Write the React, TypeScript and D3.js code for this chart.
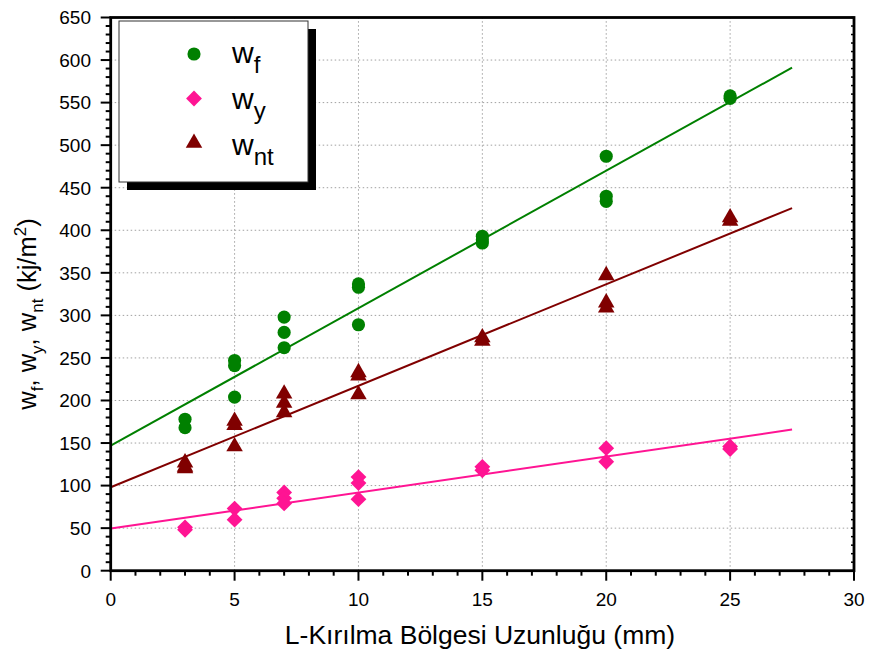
import * as d3 from "d3";
import React from "react";

// measured groups: x position (mm) and the values read at each one
const xLevels = [3, 5, 7, 10, 15, 20, 25];
const wf = [[178, 168], [247, 241, 204], [298, 280, 262], [337, 333, 289], [393, 389, 385], [487, 440, 434], [558, 555]];
const wy = [[51, 48], [73, 60], [92, 85, 79], [110, 103, 84], [122, 118], [144, 128], [146, 143]];
const wnt = [[127, 122, 120], [176, 171, 146], [208, 197, 186], [233, 229, 207], [274, 270], [347, 315, 309], [415, 411]];

// linear fits (intercept, slope) drawn from 0 to 27.5 mm
const seriesNames = ["f", "y", "nt"];
const fitIntercepts = [147, 49.5, 98];
const fitSlopes = [16.15, 4.23, 11.93];
const fitRange = [0, 27.5];

const xTicks = [0, 5, 10, 15, 20, 25, 30];
const yTicks = [0, 50, 100, 150, 200, 250, 300, 350, 400, 450, 500, 550, 600, 650];

const W = 870, H = 657;
const FONT = "'Liberation Sans', Arial, sans-serif";

export default function App() {
  const x = d3.scaleLinear().domain([0, 30]).range([110.7, 854]);
  const y = d3.scaleLinear().domain([0, 650]).range([570.7, 17.5]);

  const colors = ["#008000", "#ff1493", "#800000"];
  const symbols = [
    d3.symbol().type(d3.symbolCircle).size(136)(),
    d3.symbol().type(d3.symbolSquare).size(125)(),
    d3.symbol().type(d3.symbolTriangle).size(118)(),
  ];
  const rot = [0, 45, 0];
  const series = [wf, wy, wnt];

  const xMinor = d3.range(0, 31, 1);
  const yMinor = d3.range(0, 651, 10);

  const fitLine = d3.line<number>().x((d) => x(d));

  return (
    <svg width={W} height={H} style={{ position: "absolute", left: 0, top: 0, background: "#fff" }} fontFamily={FONT}>
      <rect width={W} height={H} fill="#fff" />

      {/* grid */}
      {yTicks.slice(1, -1).map((t) => (
        <line key={"gy" + t} x1={x(0)} x2={x(30)} y1={y(t)} y2={y(t)} stroke="#a0a0a0" strokeWidth={1} strokeDasharray="1.5,2.5" />
      ))}
      {xTicks.slice(1, -1).map((t) => (
        <line key={"gx" + t} x1={x(t)} x2={x(t)} y1={y(0)} y2={y(650)} stroke="#a0a0a0" strokeWidth={1} strokeDasharray="1.5,2.5" />
      ))}

      {/* fit lines */}
      {series.map((_, i) => (
        <path
          key={"fit" + i}
          d={fitLine.y((d) => y(fitIntercepts[i] + fitSlopes[i] * d))(fitRange) || ""}
          fill="none"
          stroke={colors[i]}
          strokeWidth={2}
        />
      ))}

      {/* points */}
      {series.map((s, i) =>
        s.map((vals, j) =>
          vals.map((v, k) => (
            <path
              key={`p${i}-${j}-${k}`}
              d={symbols[i]}
              transform={`translate(${x(xLevels[j])},${y(v)}) rotate(${rot[i]})`}
              fill={colors[i]}
            />
          ))
        )
      )}

      {/* minor / major ticks */}
      {xMinor.map((t) => (
        <line key={"xm" + t} x1={x(t)} x2={x(t)} y1={y(0)} y2={y(0) + (t % 5 === 0 ? 10 : 5)} stroke="#000" strokeWidth={2} />
      ))}
      {yMinor.map((t) => (
        <line key={"ym" + t} x1={x(0)} x2={x(0) - (t % 50 === 0 ? 10 : 5)} y1={y(t)} y2={y(t)} stroke="#000" strokeWidth={2} />
      ))}
      {yMinor.map((t) => (
        <line key={"yr" + t} x1={x(30)} x2={x(30) - 3} y1={y(t)} y2={y(t)} stroke="#000" strokeWidth={1.5} />
      ))}

      {/* frame */}
      <rect x={x(0)} y={y(650)} width={x(30) - x(0)} height={y(0) - y(650)} fill="none" stroke="#000" strokeWidth={2.8} />

      {/* tick labels */}
      {xTicks.map((t) => (
        <text key={"xl" + t} x={x(t)} y={606} fontSize={19} textAnchor="middle" fill="#000">{t}</text>
      ))}
      {yTicks.map((t) => (
        <text key={"yl" + t} x={91} y={y(t) + 6.8} fontSize={19} textAnchor="end" fill="#000">{t}</text>
      ))}

      {/* axis titles */}
      <text x={480} y={644} fontSize={26.5} textAnchor="middle" fill="#000">L-Kırılma Bölgesi Uzunluğu (mm)</text>
      <text transform={`translate(36,314) rotate(-90)`} fontSize={25.5} textAnchor="middle" fill="#000">
        w<tspan fontSize={17} dy={7}>f</tspan>
        <tspan dy={-7}>, w</tspan>
        <tspan fontSize={17} dy={7}>y</tspan>
        <tspan dy={-7}>, w</tspan>
        <tspan fontSize={17} dy={7}>nt</tspan>
        <tspan dy={-7}> (kj/m</tspan>
        <tspan fontSize={17} dy={-10}>2</tspan>
        <tspan dy={10}>)</tspan>
      </text>

      {/* legend */}
      <rect x={127} y={29} width={189} height={161} fill="#000" />
      <rect x={119} y={21} width={189} height={161} fill="#fff" stroke="#333" strokeWidth={1} />
      {seriesNames.map((n, i) => (
        <g key={"lg" + n}>
          <path d={symbols[i]} transform={`translate(194,${54 + i * 44.5}) rotate(${rot[i]})`} fill={colors[i]} />
          <text x={232} y={63 + i * 46} fontSize={30} fill="#000">
            w<tspan fontSize={24} dy={10}>{n}</tspan>
          </text>
        </g>
      ))}
    </svg>
  );
}
